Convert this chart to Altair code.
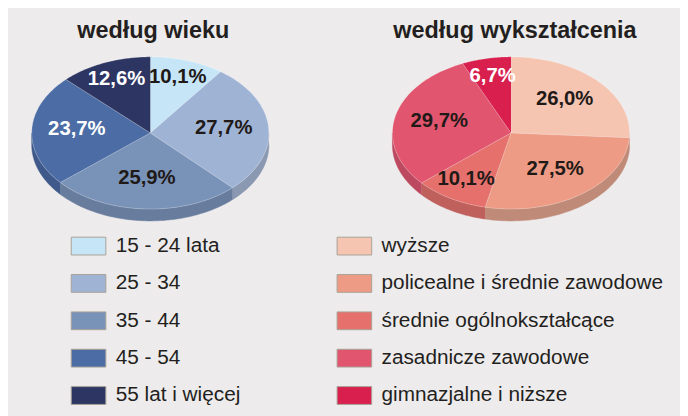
import altair as alt

# ---- data ----
titles = ["według wieku", "według wykształcenia"]

age_labels = ["15 - 24 lata", "25 - 34", "35 - 44", "45 - 54", "55 lat i więcej"]
age_values = [10.1, 27.7, 25.9, 23.7, 12.6]

edu_labels = ["wyższe", "policealne i średnie zawodowe", "średnie ogólnokształcące",
              "zasadnicze zawodowe", "gimnazjalne i niższe"]
edu_values = [26.0, 27.5, 10.1, 29.7, 6.7]

# ---- styles ----
age_colors = ["#c6e6f8", "#9fb3d5", "#7892b8", "#4b6ca4", "#2d3663"]
age_sides = ["#9fb8c8", "#8a98b1", "#687d9e", "#3f5a8a", "#252c50"]
age_text = ["#1f1a17", "#1f1a17", "#1f1a17", "#ffffff", "#ffffff"]

edu_colors = ["#f5c5b2", "#ed9b84", "#e5706c", "#e1556f", "#d81f4e"]
edu_sides = ["#c9a091", "#c08a78", "#bf605d", "#bd4960", "#b01a40"]
edu_text = ["#1f1a17", "#1f1a17", "#1f1a17", "#1f1a17", "#ffffff"]

rows = []
for g, (labs, vals, cols, sides, tcols) in enumerate([
        (age_labels, age_values, age_colors, age_sides, age_text),
        (edu_labels, edu_values, edu_colors, edu_sides, edu_text)]):
    for i, (l, v, c, s, t) in enumerate(zip(labs, vals, cols, sides, tcols)):
        rows.append({"group": g, "order": i, "key": g * 10 + i, "label": l,
                     "value": v, "color": c, "side": s, "tcolor": t})

title_rows = [{"group": g, "title": t} for g, t in enumerate(titles)]

# ---- geometry (layout constants) ----
N = 60
RX, RY, CY, DEPTH = 120, 77, 132, 12
CX = "(datum.group==0?152:517)"

xenc = alt.X("px:Q", scale=alt.Scale(domain=[8, 688], nice=False, zero=False), axis=None)
yenc = alt.Y("py:Q", scale=alt.Scale(domain=[8, 416], nice=False, zero=False, reverse=True), axis=None)

base = (alt.Chart(alt.Data(values=rows))
        .transform_joinaggregate(total="sum(value)", groupby=["group"])
        .transform_window(cum="sum(value)", groupby=["group"],
                          sort=[alt.SortField("order")], frame=[None, 0])
        .transform_calculate(a0="2*PI*(datum.cum-datum.value)/datum.total")
        .transform_calculate(a1="2*PI*datum.cum/datum.total")
        .transform_calculate(cx=CX))

# side band of the 3D pie
sides = (base
         .transform_calculate(s0="clamp(datum.a0, PI/2, 3*PI/2)")
         .transform_calculate(s1="clamp(datum.a1, PI/2, 3*PI/2)")
         .transform_filter("datum.s1 > datum.s0")
         .transform_calculate(steps=f"sequence(0, {2 * N + 2})")
         .transform_flatten(["steps"])
         .transform_calculate(k=f"datum.steps<={N} ? datum.steps : {2 * N + 1}-datum.steps")
         .transform_calculate(ang=f"datum.s0+(datum.s1-datum.s0)*datum.k/{N}")
         .transform_calculate(px=f"datum.cx+{RX}*sin(datum.ang)")
         .transform_calculate(py=f"{CY}-{RY}*cos(datum.ang)+(datum.steps<={N}?0:{DEPTH})")
         .mark_line(strokeWidth=0.5, interpolate="linear")
         .encode(x=xenc, y=yenc,
                 fill=alt.Fill("side:N", scale=None),
                 stroke=alt.Stroke("side:N", scale=None),
                 detail="key:N", order="steps:Q"))

# top faces
tops = (base
        .transform_calculate(steps=f"sequence(-1, {N + 1})")
        .transform_flatten(["steps"])
        .transform_calculate(ang=f"datum.a0+(datum.a1-datum.a0)*datum.steps/{N}")
        .transform_calculate(px=f"datum.steps<0 ? datum.cx : datum.cx+{RX}*sin(datum.ang)")
        .transform_calculate(py=f"datum.steps<0 ? {CY} : {CY}-{RY}*cos(datum.ang)")
        .mark_line(strokeWidth=0.7, stroke="#ffffff", strokeOpacity=0.35, interpolate="linear")
        .encode(x=xenc, y=yenc,
                fill=alt.Fill("color:N", scale=None),
                detail="key:N", order="steps:Q"))

# percentage labels
labels = (base
          .transform_calculate(mid="(datum.a0+datum.a1)/2")
          .transform_calculate(f="datum.value<15 ? 0.74 : 0.62")
          .transform_calculate(px="datum.cx+datum.f*%d*sin(datum.mid)" % RX)
          .transform_calculate(py="%s-datum.f*%d*cos(datum.mid)" % (CY - 2, RY))
          .transform_calculate(txt="replace(format(datum.value, '.1f'), '.', ',') + '%'")
          .mark_text(font="Liberation Sans", fontWeight="bold", fontSize=20.5,
                     align="center", baseline="middle")
          .encode(x=xenc, y=yenc, text="txt:N",
                  color=alt.Color("tcolor:N", scale=None)))

# legend
leg = (alt.Chart(alt.Data(values=rows))
       .transform_calculate(ly="246.5+datum.order*37.8")
       .transform_calculate(y0="datum.ly-9", y1="datum.ly+9")
       .transform_calculate(x0="datum.group==0?72:341")
       .transform_calculate(x1="datum.x0+35")
       .transform_calculate(tx="datum.group==0?117:386"))

leg_rects = leg.mark_rect(stroke="#a8a297", strokeWidth=1).encode(
    x=alt.X("x0:Q", scale=alt.Scale(domain=[8, 688], nice=False, zero=False), axis=None),
    x2="x1:Q",
    y=alt.Y("y0:Q", scale=alt.Scale(domain=[8, 416], nice=False, zero=False, reverse=True), axis=None),
    y2="y1:Q",
    fill=alt.Fill("color:N", scale=None))

leg_text = leg.mark_text(font="Liberation Sans", fontSize=21, align="left",
                         baseline="middle", color="#231f20").encode(
    x=alt.X("tx:Q", scale=alt.Scale(domain=[8, 688], nice=False, zero=False), axis=None),
    y=alt.Y("ly:Q", scale=alt.Scale(domain=[8, 416], nice=False, zero=False, reverse=True), axis=None),
    text="label:N")

title_marks = (alt.Chart(alt.Data(values=title_rows))
               .transform_calculate(px="datum.group==0?155:521", py="36")
               .mark_text(font="Liberation Sans", fontWeight="bold", fontSize=23.7,
                          align="center", baseline="alphabetic", color="#231f20")
               .encode(x=xenc, y=yenc, text="title:N"))

chart = (alt.layer(sides, tops, labels, leg_rects, leg_text, title_marks)
         .properties(width=680, height=408, background="#eeebec",
                     autosize=alt.AutoSizeParams(type="none"), padding=0)
         .configure_view(stroke=None))

chart.save("out.html", embed_options={"renderer": "svg", "actions": False})
